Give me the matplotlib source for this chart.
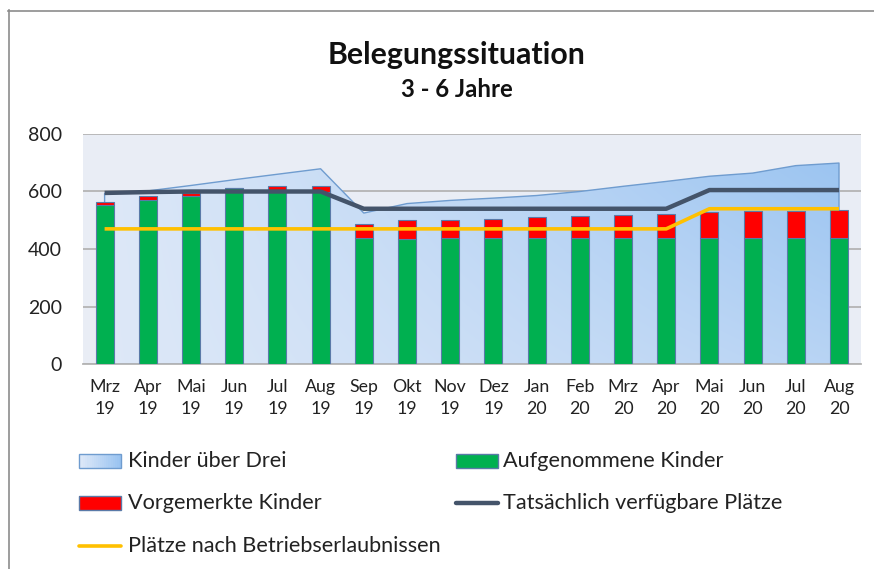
import numpy as np
import matplotlib
matplotlib.use("Agg")
import matplotlib.pyplot as plt
from matplotlib.patches import Rectangle
from matplotlib.lines import Line2D

plt.rcParams['font.family'] = ['Lato', 'DejaVu Sans']

months = ["Mrz\n19", "Apr\n19", "Mai\n19", "Jun\n19", "Jul\n19", "Aug\n19",
          "Sep\n19", "Okt\n19", "Nov\n19", "Dez\n19", "Jan\n20", "Feb\n20",
          "Mrz\n20", "Apr\n20", "Mai\n20", "Jun\n20", "Jul\n20", "Aug\n20"]
kinder_ueber_drei = [593, 602, 621, 641, 660, 679, 525, 558, 569, 577, 586, 600,
                     618, 635, 653, 664, 690, 699]
aufgenommen = [552, 572, 584, 612, 603, 600, 440, 436, 440, 440, 440, 440,
               440, 440, 440, 440, 440, 440]
vorgemerkt = [12, 11, 11, 0, 17, 20, 47, 64, 60, 64, 71, 74,
              77, 83, 88, 92, 92, 96]
verfuegbar = [595, 598, 600, 600, 600, 600, 540, 540, 540, 540, 540, 540,
              540, 540, 605, 605, 605, 605]
betriebserlaubnis = [470, 470, 470, 470, 470, 470, 470, 470, 470, 470, 470, 470,
                     470, 470, 540, 540, 540, 540]
yticks = [0, 200, 400, 600, 800]

W, H = 874, 569
fig = plt.figure(figsize=(W / 100, H / 100), dpi=100)
fig.patch.set_facecolor('white')

def fx(px):
    return px / W

def fy(py):
    return 1 - py / H

ax = fig.add_axes([fx(83), fy(364), fx(860.6) - fx(83), fy(134) - fy(364)])
ax.set_facecolor('#e9edf5')
x = np.arange(len(months))
ax.set_xlim(-0.5, len(months) - 0.5)
ax.set_ylim(0, 800)

# gradient area
light = np.array([0.875, 0.914, 0.972])
dark = np.array([0.60, 0.765, 0.945])
nx, ny = 300, 120
tx = np.linspace(0, 1, nx)[None, :]
sy = np.linspace(1, 0, ny)[:, None]
g = np.clip(tx * (0.55 + 0.45 * sy) * 1.05, 0, 1)
img = light[None, None, :] + (dark - light)[None, None, :] * g[:, :, None]
area = ax.fill_between(x, 0, kinder_ueber_drei, facecolor='none',
                       edgecolor='#6f9ccf', linewidth=1.0, zorder=2)
im = ax.imshow(img, extent=[-0.5, len(months) - 0.5, 0, 800], aspect='auto',
               zorder=1, interpolation='bilinear')
im.set_clip_path(area.get_paths()[0], transform=ax.transData)

ax.yaxis.grid(True, color='#b4b4b4', linewidth=1.3, zorder=0.5)
ax.set_axisbelow(True)

bw = 0.42
ax.bar(x, aufgenommen, width=bw, color='#00b050', edgecolor='#5a7aa8',
       linewidth=0.8, zorder=3)
ax.bar(x, vorgemerkt, width=bw, bottom=aufgenommen, color='#ff0000',
       edgecolor='#5a7aa8', linewidth=0.8, zorder=3)
ax.plot(x, verfuegbar, color='#44546a', linewidth=3.2, zorder=4,
        solid_capstyle='butt')
ax.plot(x, betriebserlaubnis, color='#ffc000', linewidth=2.6, zorder=5,
        solid_capstyle='butt')

for s in ['top', 'right', 'left']:
    ax.spines[s].set_visible(False)
ax.spines['bottom'].set_color('#b4b4b4')
ax.spines['bottom'].set_linewidth(1.3)

ax.set_xticks(x)
ax.set_xticklabels(months, fontsize=12.8, color='#222222', linespacing=1.42)
ax.set_yticks(yticks)
ax.set_yticklabels([str(v) for v in yticks], fontsize=14, color='#222222')
ax.tick_params(axis='both', length=0)
ax.tick_params(axis='y', pad=15)
ax.tick_params(axis='x', pad=11)

# title
fig.text(fx(457), fy(64), "Belegungssituation", ha='center', va='baseline',
         fontsize=21.8, fontweight='bold', color='#111111')
fig.text(fx(457), fy(97), "3 - 6 Jahre", ha='center', va='baseline',
         fontsize=17.2, fontweight='bold', color='#111111')

# chart border
fig.add_artist(Line2D([fx(8), fx(874)], [fy(10.5), fy(10.5)],
                      color='#8c8c8c', linewidth=1.2))
fig.add_artist(Line2D([fx(8.5), fx(8.5)], [fy(10), fy(569)],
                      color='#8c8c8c', linewidth=1.2))

# legend (manual)
lfs = 15.6
def legend_patch(x0, yc, colors, edge):
    w, h = 42, 13
    n = len(colors)
    for i, c in enumerate(colors):
        fig.add_artist(Rectangle((fx(x0 + w * i / n), fy(yc + h / 2)), fx(w / n) + 0.0005,
                                 fy(yc - h / 2) - fy(yc + h / 2),
                                 transform=fig.transFigure, facecolor=c,
                                 edgecolor='none'))
    fig.add_artist(Rectangle((fx(x0), fy(yc + h / 2)), fx(w),
                             fy(yc - h / 2) - fy(yc + h / 2),
                             transform=fig.transFigure, facecolor='none',
                             edgecolor=edge, linewidth=1.0))

def legend_line(x0, yc, color, lw):
    fig.add_artist(Line2D([fx(x0), fx(x0 + 42)], [fy(yc), fy(yc)],
                          color=color, linewidth=lw, solid_capstyle='round'))

grad_cols = [tuple(light + (dark - light) * t) for t in np.linspace(0, 1, 20)]
rows = [461, 503, 546]
legend_patch(79, rows[0], grad_cols, '#6f9ccf')
fig.text(fx(128), fy(rows[0]), "Kinder über Drei", va='center', fontsize=lfs, color='#222222')
legend_patch(456, rows[0], ['#00b050'], '#5a7aa8')
fig.text(fx(503), fy(rows[0]), "Aufgenommene Kinder", va='center', fontsize=lfs, color='#222222')
legend_patch(79, rows[1], ['#ff0000'], '#5a7aa8')
fig.text(fx(128), fy(rows[1]), "Vorgemerkte Kinder", va='center', fontsize=lfs, color='#222222')
legend_line(456, rows[1], '#44546a', 3.2)
fig.text(fx(503), fy(rows[1]), "Tatsächlich verfügbare Plätze", va='center', fontsize=lfs, color='#222222')
legend_line(79, rows[2], '#ffc000', 2.6)
fig.text(fx(128), fy(rows[2]), "Plätze nach Betriebserlaubnissen", va='center', fontsize=lfs, color='#222222')

fig.savefig('out.png', dpi=100)
